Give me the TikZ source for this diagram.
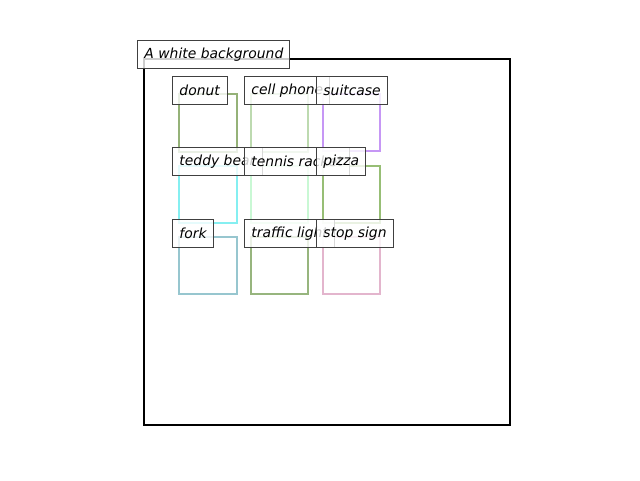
\documentclass[tikz,border=0pt]{standalone}
\usepackage{fontspec}
\setmainfont{DejaVu Sans}
\begin{document}
\begin{tikzpicture}[x=1pt,y=-1pt,
  lbl/.style={draw=black!75, fill=white, fill opacity=0.8, text opacity=1, line width=0.9pt,
    anchor=north west, minimum height=28pt, inner xsep=7pt, inner ysep=0pt,
    font=\fontsize{13.9}{16}\selectfont\itshape},
  bx/.style={line width=2.7pt, draw opacity=0.9}]
\useasboundingbox (0,0) rectangle (640,480);
\fill[white] (0,0) rectangle (640,480);
\draw[line width=2pt, black] (144,59) rectangle (510,425);
% boxes
\definecolor{cdonut}{HTML}{8AAA6A}
\definecolor{ccell}{HTML}{B6D6A8}
\definecolor{csuit}{HTML}{C08CF4}
\definecolor{cteddy}{HTML}{78EEF0}
\definecolor{ctennis}{HTML}{C4F8D0}
\definecolor{cpizza}{HTML}{8CB866}
\definecolor{cfork}{HTML}{8CC0CA}
\definecolor{ctraffic}{HTML}{8CAE70}
\definecolor{cstop}{HTML}{E0AEC8}
\draw[bx, cdonut] (179,94) rectangle (237,152);
\draw[bx, ccell] (251,94) rectangle (308,152);
\draw[bx, csuit] (323,94) rectangle (380,151);
\draw[bx, cteddy] (179,166) rectangle (237,223);
\draw[bx, ctennis] (251,166) rectangle (308,223);
\draw[bx, cpizza] (323,166) rectangle (380,223);
\draw[bx, cfork] (179,237) rectangle (237,294);
\draw[bx, ctraffic] (251,237) rectangle (308,294);
\draw[bx, cstop] (323,237) rectangle (380,294);
% labels
\newcommand{\lb}[2]{\makebox[#1pt][l]{#2}}
\node[lbl] (bg) at (137,40) {\lb{138}{A white background}};
\node[lbl] (donut) at (172,76) {\lb{41}{donut}};
\node[lbl] (cell) at (244,76) {\lb{71}{cell phone}};
\node[lbl] (suit) at (316,76) {\lb{57}{suitcase}};
\node[lbl] (teddy) at (172,147) {\lb{76}{teddy bear}};
\node[lbl] (tennis) at (244,147) {\lb{91}{tennis racket}};
\node[lbl] (pizza) at (316,147) {\lb{35}{pizza}};
\node[lbl] (fork) at (172,219) {\lb{27}{fork}};
\node[lbl] (traffic) at (244,219) {\lb{76}{traffic light}};
\node[lbl] (stop) at (316,219) {\lb{63}{stop sign}};
\end{tikzpicture}
\end{document}
